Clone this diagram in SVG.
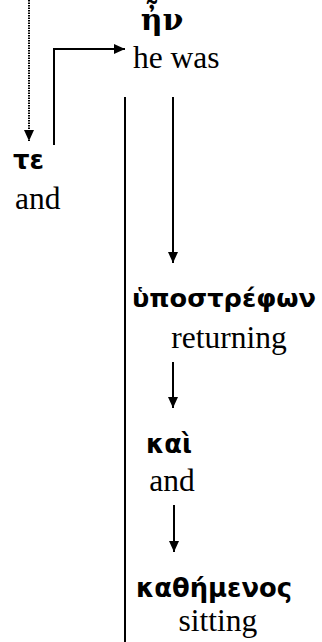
<svg xmlns="http://www.w3.org/2000/svg" width="322" height="642" viewBox="0 0 322 642">
  <style>
    .gk { font-family: "DejaVu Sans", "Noto Sans", sans-serif; font-weight: bold; font-size: 27px; fill: #000; }
    .gk.long { font-size: 25.5px; }
    .gk2 { font-family: "DejaVu Serif", "Liberation Serif", serif; font-weight: bold; font-size: 30px; fill: #000; }
    .en { font-family: "Liberation Serif", "Times New Roman", serif; font-size: 31.5px; fill: #000; }
    .ln { stroke: #000; stroke-width: 2; fill: none; }
    .dot { stroke: #000; stroke-width: 2; fill: none; stroke-dasharray: 1.5 1; }
  </style>
  <defs>
    <marker id="ah" markerUnits="userSpaceOnUse" markerWidth="11" markerHeight="10" refX="11" refY="5" orient="auto">
      <path d="M0,0 L11,5 L0,10 Z" fill="#000"/>
    </marker>
  </defs>
  <rect width="322" height="642" fill="#fff"/>

  <g id="connectors">
    <line class="dot" x1="29" y1="0" x2="29" y2="141" marker-end="url(#ah)"/>
    <polyline class="ln" points="54,145 54,49 125,49" marker-end="url(#ah)"/>
    <line class="ln" x1="125" y1="97" x2="125" y2="642"/>
    <line class="ln" x1="173" y1="97" x2="173" y2="263" marker-end="url(#ah)"/>
    <line class="ln" x1="173" y1="362" x2="173" y2="408" marker-end="url(#ah)"/>
    <line class="ln" x1="174" y1="505" x2="174" y2="552" marker-end="url(#ah)"/>
  </g>

  <g id="en">
    <text class="gk2" x="162" y="30" text-anchor="middle">ἦν</text>
    <text class="en" x="133" y="68">he was</text>
  </g>
  <g id="te">
    <text class="gk" x="13" y="169" textLength="31" lengthAdjust="spacingAndGlyphs">τε</text>
    <text class="en" x="15" y="209">and</text>
  </g>
  <g id="hypostrephon">
    <text class="gk long" x="132" y="307" textLength="184" lengthAdjust="spacingAndGlyphs">ὑποστρέφων</text>
    <text class="en" x="229" y="348" text-anchor="middle">returning</text>
  </g>
  <g id="kai">
    <text class="gk" x="146" y="453" textLength="46" lengthAdjust="spacingAndGlyphs">καὶ</text>
    <text class="en" x="172" y="491" text-anchor="middle">and</text>
  </g>
  <g id="kathemenos">
    <text class="gk" x="136" y="597" textLength="156" lengthAdjust="spacingAndGlyphs">καθήμενος</text>
    <text class="en" x="218" y="631" text-anchor="middle">sitting</text>
  </g>
</svg>
